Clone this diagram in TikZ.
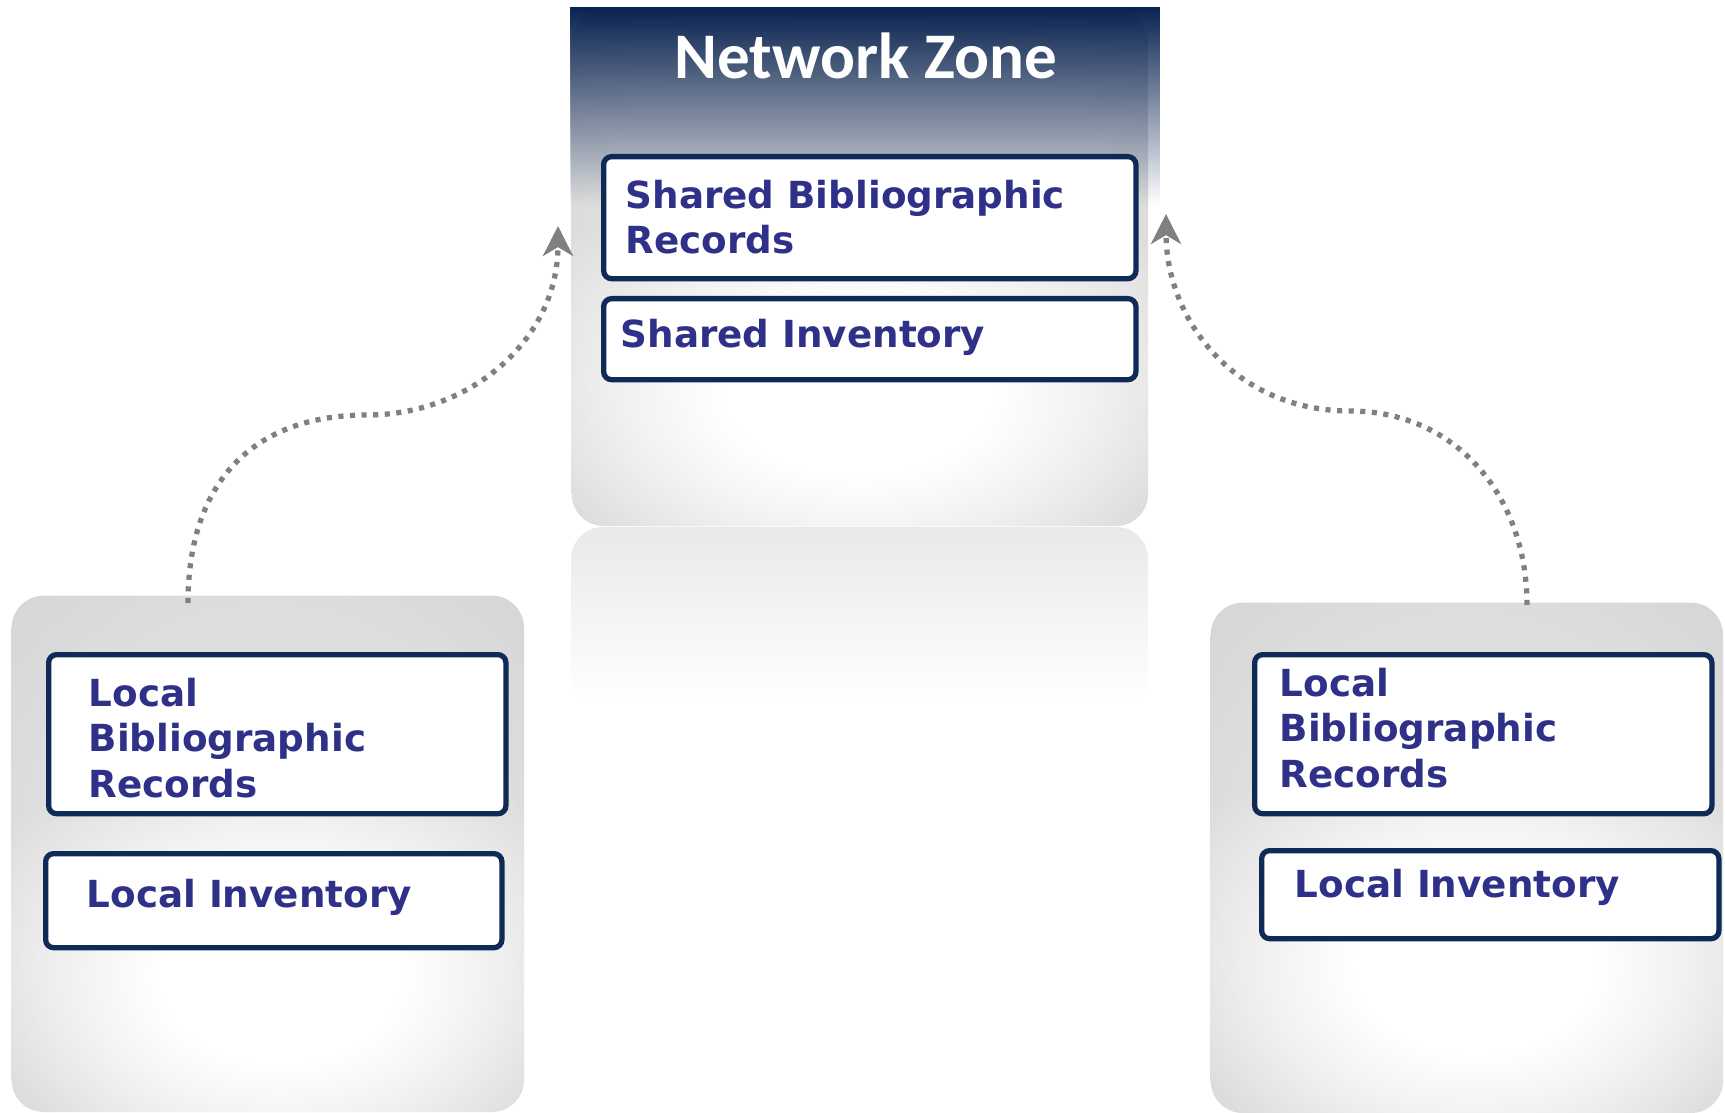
\documentclass[tikz,border=0pt]{standalone}
\usepackage{fontspec}
\setmainfont{DejaVu Sans}
\newfontfamily\zonefont{Carlito}
\usetikzlibrary{arrows.meta,fadings}

\definecolor{navy}{RGB}{8,34,80}
\definecolor{frame}{RGB}{16,42,88}
\definecolor{ink}{RGB}{46,49,135}
\definecolor{boxmid}{RGB}{221,221,221}
\definecolor{boxside}{RGB}{208,208,208}
\definecolor{boxedge}{RGB}{178,178,178}
\definecolor{reflect}{RGB}{233,233,233}
\definecolor{arrowgray}{RGB}{128,128,128}

\pgfdeclareradialshading{vignette}{\pgfpointorigin}{color(0bp)=(boxmid); color(24bp)=(boxmid); color(44bp)=(boxside); color(66bp)=(boxedge)}
\pgfdeclareradialshading{glowmask}{\pgfpointorigin}{color(0bp)=(white); color(9bp)=(white); color(25bp)=(black); color(50bp)=(black)}
\pgfdeclarefading{glowfade}{\pgfuseshading{glowmask}}
\tikzfading[name=fadedown, top color=transparent!0, bottom color=transparent!100]

\begin{document}
\begin{tikzpicture}[x=0.01cm,y=-0.01cm,
  zone/.style={shade, shading=vignette, rounded corners=0.32cm, anchor=north west, inner sep=0pt},
  panel/.style={draw=frame, line width=1.5pt, fill=white, rounded corners=0.08cm, anchor=north west, inner sep=0pt},
  record/.style={text=ink, font=\fontsize{10.6}{13}\selectfont\bfseries, align=left, inner sep=0pt},
  link/.style={arrowgray, line width=1.5pt, dash pattern=on 1.45pt off 1.85pt,
    -{Stealth[length=8.5pt,width=8.5pt,inset=2.5pt]}}]
  \useasboundingbox (0,0) rectangle (1725,1113);
  % Network Zone in the middle
  \fill[reflect, rounded corners=0.32cm, path fading=fadedown] (571,527) rectangle (1148,706);
  \node[zone, minimum width=5.76cm, minimum height=5.15cm] (NZ) at (571,10) {};
  \begin{scope}
    \clip[rounded corners=0.32cm] (NZ.north west) rectangle (NZ.south east);
    \fill[white, path fading=glowfade] (858,390) ellipse (3.8cm and 2.4cm);
  \end{scope}
  \fill[navy, path fading=fadedown] (570,7) rectangle (1160,205);
  \node[text=white, font=\zonefont\bfseries\fontsize{18.5}{22}\selectfont, anchor=base] (NZT) at (866,79) {Network Zone};
  \node[panel, minimum width=5.32cm, minimum height=1.22cm] (SB) at (601,154) {};
  \node[record, anchor=north west] (SBT) at (625,179) {Shared Bibliographic\\Records};
  \node[panel, minimum width=5.32cm, minimum height=0.81cm] (SI) at (601,296) {};
  \node[record, anchor=base west] (SIT) at (620,348) {Shared Inventory};
  % Left-hand side library
  \node[zone, minimum width=5.12cm, minimum height=5.16cm] (LB) at (11,595) {};
  \begin{scope}
    \clip[rounded corners=0.32cm] (LB.north west) rectangle (LB.south east);
    \fill[white, path fading=glowfade] (280,975) ellipse (3.4cm and 2.5cm);
  \end{scope}
  \node[panel, minimum width=4.57cm, minimum height=1.59cm] (LBB) at (46,652) {};
  \node[record, anchor=north west] (LBT) at (88,677) {Local\\Bibliographic\\Records};
  \node[panel, minimum width=4.56cm, minimum height=0.94cm] (LI) at (43,851) {};
  \node[record, anchor=base west] (LIT) at (86,907) {Local Inventory};
  % Right-hand side library
  \node[zone, minimum width=5.12cm, minimum height=5.10cm] (RB) at (1210,602) {};
  \begin{scope}
    \clip[rounded corners=0.32cm] (RB.north west) rectangle (RB.south east);
    \fill[white, path fading=glowfade] (1475,965) ellipse (3.4cm and 2.5cm);
  \end{scope}
  \node[panel, minimum width=4.57cm, minimum height=1.59cm] (RBB) at (1252,652) {};
  \node[record, anchor=north west] (RBT) at (1279,667) {Local\\Bibliographic\\Records};
  \node[panel, minimum width=4.57cm, minimum height=0.88cm] (RI) at (1259,848) {};
  \node[record, anchor=base west] (RIT) at (1294,897) {Local Inventory};
  % dotted links up to the Network Zone
  \coordinate (lfoot) at (188,603);
  \coordinate (ltip)  at (558,226);
  \coordinate (rfoot) at (1527,605);
  \coordinate (rtip)  at (1166,214);
  \draw[link] (lfoot) .. controls (188,480) and (255,415) .. (367,415)
                      .. controls (470,415) and (558,340) .. (ltip);
  \draw[link] (rfoot) .. controls (1527,495) and (1455,411) .. (1350,411)
                      .. controls (1235,411) and (1166,320) .. (rtip);
\end{tikzpicture}
\end{document}
